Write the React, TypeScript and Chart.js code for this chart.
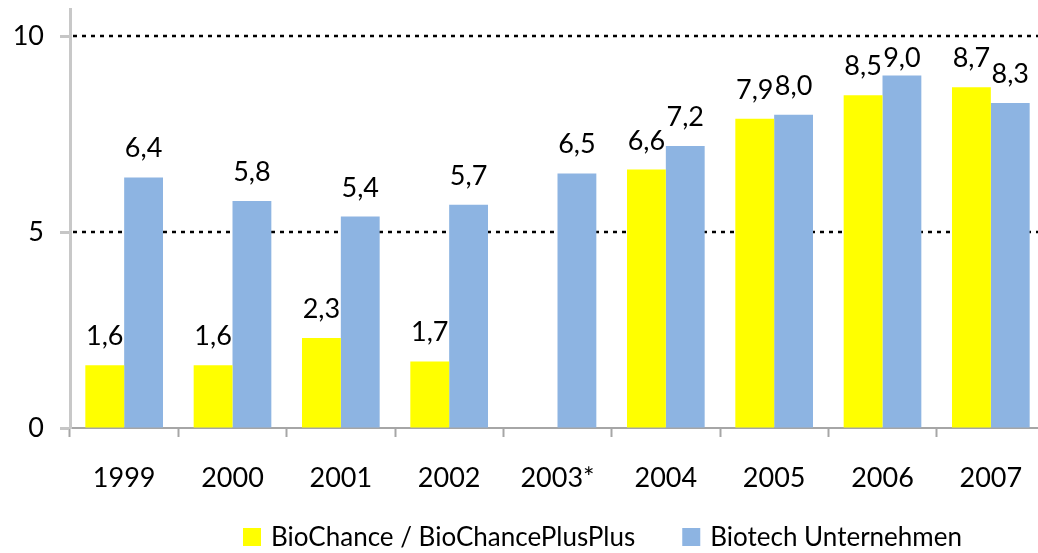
import React, { useEffect, useRef } from "react";
import { Chart, registerables } from "chart.js";

Chart.register(...registerables);

const categories = ["1999", "2000", "2001", "2002", "2003*", "2004", "2005", "2006", "2007"];
const bioChance: (number | null)[] = [1.6, 1.6, 2.3, 1.7, null, 6.6, 7.9, 8.5, 8.7];
const biotech: (number | null)[] = [6.4, 5.8, 5.4, 5.7, 6.5, 7.2, 8.0, 9.0, 8.3];
const yTicks = [0, 5, 10];
const gridValues = [5, 10];
const seriesNames = ["BioChance / BioChancePlusPlus", "Biotech Unternehmen"];
const seriesColors = ["#FFFF00", "#8DB4E2"];

const FONT = "Lato, 'Open Sans', sans-serif";

const fmt = (v: number) => v.toFixed(1).replace(".", ",");

const gridPlugin = {
  id: "dottedGrid",
  beforeDatasetsDraw(chart: any) {
    const { ctx, chartArea } = chart;
    const y = chart.scales.y;
    ctx.save();
    ctx.strokeStyle = "#000";
    ctx.lineWidth = 2.5;
    ctx.setLineDash([4, 5]);
    for (const v of gridValues) {
      const py = Math.round(y.getPixelForValue(v));
      ctx.beginPath();
      ctx.moveTo(chartArea.left + 3, py);
      ctx.lineTo(chartArea.right, py);
      ctx.stroke();
    }
    ctx.restore();
  },
};

const labelPlugin = {
  id: "valueLabels",
  afterDatasetsDraw(chart: any) {
    const { ctx } = chart;
    ctx.save();
    ctx.font = `27px ${FONT}`;
    ctx.fillStyle = "#000";
    ctx.textAlign = "center";
    ctx.textBaseline = "alphabetic";
    chart.data.datasets.forEach((ds: any, di: number) => {
      const meta = chart.getDatasetMeta(di);
      meta.data.forEach((el: any, i: number) => {
        const v = ds.data[i];
        if (v == null) return;
        const yb = Math.max(el.y - 20, 67);
        ctx.fillText(fmt(v), el.x, yb);
      });
    });
    ctx.restore();
  },
};

const legendPlugin = {
  id: "customLegend",
  afterDraw(chart: any) {
    const { ctx, chartArea } = chart;
    ctx.save();
    ctx.font = `26px ${FONT}`;
    ctx.textBaseline = "middle";
    ctx.textAlign = "left";
    const box = 18;
    const cy = 537;
    let x = chartArea.left + 173;
    seriesNames.forEach((name, i) => {
      ctx.fillStyle = seriesColors[i];
      ctx.fillRect(x, cy - box / 2, box, box);
      ctx.fillStyle = "#000";
      ctx.fillText(name, x + 28, cy + 1);
      x += 28 + ctx.measureText(name).width + 47;
    });
    ctx.restore();
  },
};

export default function App() {
  const ref = useRef<HTMLCanvasElement | null>(null);
  useEffect(() => {
    if (!ref.current) return;
    const chart = new Chart(ref.current, {
      type: "bar",
      data: {
        labels: categories,
        datasets: [
          {
            label: seriesNames[0],
            data: bioChance,
            backgroundColor: seriesColors[0],
            barPercentage: 1,
            categoryPercentage: 0.717,
          },
          {
            label: seriesNames[1],
            data: biotech,
            backgroundColor: seriesColors[1],
            barPercentage: 1,
            categoryPercentage: 0.717,
          },
        ],
      },
      options: {
        responsive: false,
        animation: false,
        devicePixelRatio: 1,
        layout: { padding: { top: 9, right: 5, left: 0, bottom: 0 } },
        plugins: { legend: { display: false }, tooltip: { enabled: false } },
        scales: {
          x: {
            offset: true,
            grid: {
              offset: true,
              drawOnChartArea: false,
              drawTicks: true,
              tickLength: 9,
              tickColor: "#a6a6a6",
              tickWidth: 2,
            },
            border: { color: "#a6a6a6", width: 2 },
            ticks: {
              font: { family: FONT, size: 27 },
              color: "#000",
              padding: 25,
              maxRotation: 0,
              autoSkip: false,
            },
            afterFit: (s: any) => {
              s.height = 125;
              s.paddingLeft = 0;
              s.paddingRight = 0;
            },
          },
          y: {
            min: 0,
            max: 10.7,
            afterBuildTicks: (s: any) => {
              s.ticks = yTicks.map((v) => ({ value: v }));
            },
            grid: {
              drawOnChartArea: false,
              tickLength: 10,
              tickColor: "#c6c6c6",
              tickWidth: 3,
            },
            border: { color: "#c8c8c8", width: 3 },
            ticks: {
              font: { family: FONT, size: 27 },
              color: "#000",
              padding: 16,
            },
            afterFit: (s: any) => {
              s.width = 70;
              s.paddingTop = 0;
              s.paddingBottom = 0;
            },
          },
        },
      },
      plugins: [gridPlugin, labelPlugin, legendPlugin],
    } as any);
    return () => chart.destroy();
  }, []);
  return (
    <div
      style={{
        position: "fixed",
        left: 0,
        top: 0,
        width: 1038,
        height: 553,
        overflow: "hidden",
        background: "#fff",
      }}
    >
      <canvas ref={ref} width={1050} height={553} style={{ display: "block" }} />
    </div>
  );
}
